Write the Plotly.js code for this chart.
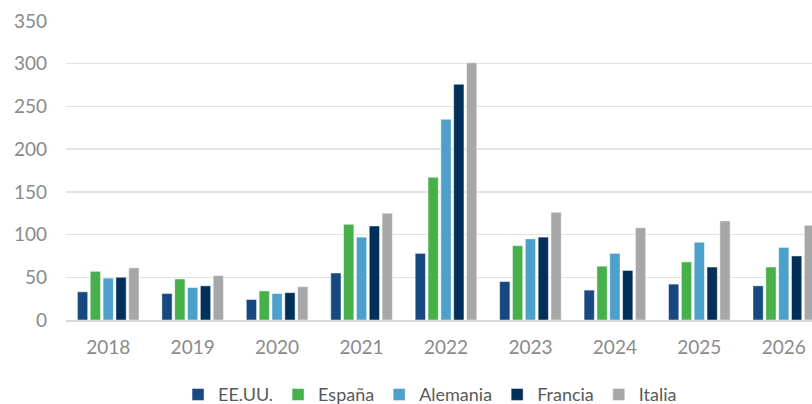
<!DOCTYPE html>
<html><head><meta charset="utf-8">
<script src="https://cdn.plot.ly/plotly-3.0.1.min.js"></script>
<style>html,body{margin:0;padding:0;overflow:hidden;background:#fff;width:812px;height:404px}</style>
</head><body><div id="chart"></div>
<script>
const years = ['2018','2019','2020','2021','2022','2023','2024','2025','2026'];
const eeuu     = [33, 31, 24, 55, 78, 45, 35, 42, 40];
const espana   = [57, 48, 34, 112, 167, 87, 63, 68, 62];
const alemania = [49, 38, 31, 97, 235, 95, 78, 91, 85];
const francia  = [50, 40, 32, 110, 276, 97, 58, 62, 75];
const italia   = [61, 52, 39, 125, 301, 126, 108, 116, 111];

const seriesNames = ['EE.UU.', 'España', 'Alemania', 'Francia', 'Italia'];
const seriesData = [eeuu, espana, alemania, francia, italia];
const colors = ['#17487F', '#46B04A', '#4CA0CB', '#00305A', '#A6A7A9'];

const traces = seriesNames.map((n, i) => ({
  type: 'bar', name: n, x: years, y: seriesData[i],
  marker: {color: colors[i], line: {color: 'rgba(255,255,255,0.6)', width: 0.8}},
  hoverinfo: 'x+y+name'
}));

const layout = {
  width: 826, height: 404,
  margin: {l: 66, r: 0, t: 21, b: 84, autoexpand: false},
  paper_bgcolor: '#fff', plot_bgcolor: '#fff',
  barmode: 'group', bargap: 0.24, bargroupgap: 0.2,
  font: {family: 'Lato, "Open Sans", sans-serif', color: '#8A8A8A'},
  xaxis: {
    type: 'category', showgrid: false, showline: true, linecolor: '#D9D9D9', linewidth: 1.5,
    ticks: '', tickfont: {size: 19, color: '#8A8A8A'}, ticklabelstandoff: 10, automargin: false
  },
  yaxis: {
    range: [0, 350], tickvals: [0, 50, 100, 150, 200, 250, 300, 350],
    showgrid: true, gridcolor: '#E3E3E3', gridwidth: 1.3, zeroline: false,
    showline: false, ticks: '', tickfont: {size: 19, color: '#8A8A8A'}, ticklabelstandoff: 18, automargin: false
  },
  legend: {
    orientation: 'h', x: 0.479, xanchor: 'center', y: -0.25, yanchor: 'middle',
    font: {size: 18, color: '#595959'}, itemwidth: 30, traceorder: 'normal'
  },
  showlegend: true
};
Plotly.newPlot('chart', traces, layout, {displayModeBar: false, staticPlot: true});
</script></body></html>
